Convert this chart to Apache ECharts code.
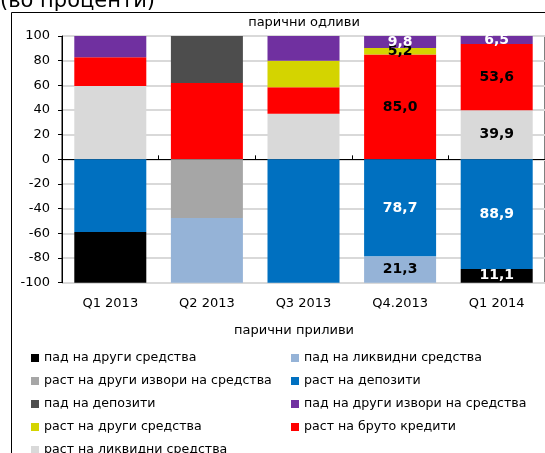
<!DOCTYPE html>
<html>
<head>
<meta charset="utf-8">
<script src="https://cdn.jsdelivr.net/npm/echarts@6/dist/echarts.min.js"></script>
<style>
  html, body { margin: 0; padding: 0; background: #fff; }
  #chart { width: 545px; height: 453px; }
</style>
</head>
<body>
<div id="chart"></div>
<script>
// categories
const categories = ['Q1 2013', 'Q2 2013', 'Q3 2013', 'Q4.2013', 'Q1 2014'];
const yTicks = { min: -100, max: 100, step: 20 };

// парични одливи (positive, from zero upward)
const rastLikvidni = [59.5, 0, 37.0, 0, 39.9];
const rastKrediti = [23.2, 61.9, 21.4, 85.0, 53.6];
const rastDrugiSredstva = [0, 0, 21.6, 5.2, 0];
const padDrugiIzvori = [17.3, 0, 20.0, 9.8, 6.5];
const padDepoziti = [0, 38.1, 0, 0, 0];
// парични приливи (negative, from zero downward)
const rastDepoziti = [-58.9, 0, -100, -78.7, -88.9];
const rastDrugiIzvori = [0, -47.6, 0, 0, 0];
const padLikvidni = [0, -52.4, 0, -21.3, 0];
const padDrugiSredstva = [-41.1, 0, 0, 0, -11.1];

const font = 'DejaVu Sans';

// series in stacking order (first = nearest to zero)
const defs = [
  ['раст на ликвидни средства', rastLikvidni, '#d9d9d9', '#000'],
  ['раст на бруто кредити', rastKrediti, '#ff0000', '#000'],
  ['раст на други средства', rastDrugiSredstva, '#d4d400', '#000'],
  ['пад на други извори на средства', padDrugiIzvori, '#7030a0', '#fff'],
  ['пад на депозити', padDepoziti, '#4d4d4d', '#fff'],
  ['раст на депозити', rastDepoziti, '#0070c0', '#fff'],
  ['раст на други извори на средства', rastDrugiIzvori, '#a6a6a6', '#000'],
  ['пад на ликвидни средства', padLikvidni, '#95b3d7', '#000'],
  ['пад на други средства', padDrugiSredstva, '#000000', '#fff']
];

let series = defs.map(d => ({
  name: d[0],
  type: 'bar',
  stack: 'total',
  data: d[1],
  xAxisIndex: 0,
  barWidth: 72,
  itemStyle: { color: d[2] },
  label: {
    show: true,
    position: 'inside',
    color: d[3],
    fontFamily: font,
    fontWeight: 'bold',
    fontSize: 14,
    formatter: function (p) {
      if (p.dataIndex < 3 || !p.value) return '';
      return Math.abs(p.value).toFixed(1).replace('.', ',');
    }
  }
}));

let legendBase = {
  orient: 'vertical', height: 140,
  itemWidth: 8, itemHeight: 8, itemGap: 9, icon: 'rect',
  selectedMode: false,
  textStyle: { fontFamily: font, fontSize: 12.6, color: '#000', lineHeight: 14 }
};

let myChart = echarts.init(document.getElementById('chart'), null, { renderer: 'canvas' });
let option = {
  animation: false,
  textStyle: { fontFamily: font },
  grid: {
    left: 62, top: 36, width: 485, height: 246.7,
    show: true, borderColor: '#000', borderWidth: 1
  },
  legend: [
    Object.assign({}, legendBase, {
      left: 26, top: 346,
      data: ['пад на други средства', 'раст на други извори на средства', 'пад на депозити',
        'раст на други средства', 'раст на ликвидни средства']
    }),
    Object.assign({}, legendBase, {
      left: 286, top: 346,
      data: ['пад на ликвидни средства', 'раст на депозити',
        'пад на други извори на средства', 'раст на бруто кредити']
    })
  ],
  xAxis: [
    {
      type: 'category',
      data: categories,
      position: 'bottom',
      axisLine: { show: false, onZero: false },
      axisTick: { show: false },
      axisLabel: { fontFamily: font, fontSize: 13, color: '#000', margin: 14 }
    },
    {
      type: 'category',
      data: categories,
      axisLine: { show: true, onZero: true, lineStyle: { color: '#000', width: 1 } },
      axisTick: { show: true, inside: false, length: 4, lineStyle: { color: '#000' } },
      axisLabel: { show: false }
    }
  ],
  yAxis: {
    type: 'value',
    min: yTicks.min,
    max: yTicks.max,
    interval: yTicks.step,
    axisLine: { show: true, lineStyle: { color: '#000' } },
    axisTick: { show: true, length: 4, lineStyle: { color: '#000' } },
    axisLabel: { fontFamily: font, fontSize: 13, color: '#000', margin: 12 },
    splitLine: { show: true, lineStyle: { color: '#d9d9d9', width: 2 } }
  },
  graphic: [
    {
      type: 'rect', left: 9, top: 10, z: -1,
      shape: { width: 600, height: 500 },
      style: { fill: 'none', stroke: '#000', lineWidth: 1 }
    },
    {
      type: 'text', x: 0, y: 12,
      style: { text: '(во проценти)', font: '21px "DejaVu Sans"', fill: '#000', verticalAlign: 'bottom' }
    },
    {
      type: 'text', x: 304, y: 23,
      style: { text: 'парични одливи', font: '13px "DejaVu Sans"', fill: '#000', align: 'center', verticalAlign: 'middle' }
    },
    {
      type: 'text', x: 294, y: 331,
      style: { text: 'парични приливи', font: '13px "DejaVu Sans"', fill: '#000', align: 'center', verticalAlign: 'middle' }
    }
  ],
  series: series
};
myChart.setOption(option);
</script>
</body>
</html>
